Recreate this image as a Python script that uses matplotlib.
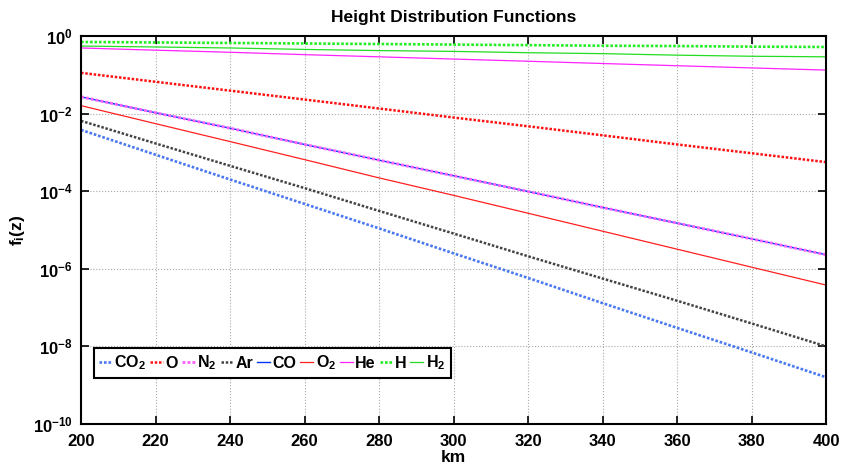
import numpy as np
import matplotlib
matplotlib.use('Agg')
import matplotlib.pyplot as plt
from matplotlib.ticker import NullLocator

plt.rcParams['font.family'] = 'Liberation Sans'
plt.rcParams['font.weight'] = 'bold'
plt.rcParams['mathtext.fontset'] = 'custom'
plt.rcParams['mathtext.rm'] = 'Liberation Sans:bold'
plt.rcParams['mathtext.it'] = 'Liberation Sans:bold'
plt.rcParams['mathtext.bf'] = 'Liberation Sans:bold'
plt.rcParams['mathtext.default'] = 'bf'

# altitude (km)
z = [200, 220, 240, 260, 280, 300, 320, 340, 360, 380, 400]

# height distribution functions
f_co2 = [3.8e-3, 8.7e-4, 2.0e-4, 4.7e-5, 1.1e-5, 2.5e-6, 5.8e-7, 1.3e-7, 3.0e-8, 7.0e-9, 1.6e-9]
f_o = [0.112, 6.6e-2, 3.9e-2, 2.3e-2, 1.35e-2, 7.9e-3, 4.7e-3, 2.75e-3, 1.6e-3, 9.5e-4, 5.6e-4]
f_n2 = [2.7e-2, 1.05e-2, 4.2e-3, 1.6e-3, 6.3e-4, 2.5e-4, 9.8e-5, 3.8e-5, 1.5e-5, 5.9e-6, 2.3e-6]
f_ar = [6.5e-3, 1.7e-3, 4.5e-4, 1.2e-4, 3.1e-5, 8.1e-6, 2.1e-6, 5.6e-7, 1.5e-7, 3.9e-8, 1.0e-8]
f_co = [2.7e-2, 1.05e-2, 4.2e-3, 1.6e-3, 6.3e-4, 2.5e-4, 9.8e-5, 3.8e-5, 1.5e-5, 5.9e-6, 2.3e-6]
f_o2 = [1.6e-2, 5.5e-3, 1.9e-3, 6.5e-4, 2.2e-4, 7.8e-5, 2.7e-5, 9.3e-6, 3.2e-6, 1.1e-6, 3.8e-7]
f_he = [0.49, 0.43, 0.38, 0.33, 0.29, 0.254, 0.223, 0.195, 0.171, 0.150, 0.132]
f_h = [0.70, 0.68, 0.66, 0.64, 0.62, 0.60, 0.58, 0.56, 0.55, 0.53, 0.52]
f_h2 = [0.55, 0.52, 0.49, 0.45, 0.42, 0.40, 0.37, 0.35, 0.32, 0.30, 0.29]

fig = plt.figure(figsize=(8.44, 4.67), dpi=100)
ax = fig.add_axes([0.096, 0.092, 0.883, 0.831])

dots = (0, (1, 0.7))
ax.plot(z, f_co2, color='#4a78f0', ls=dots, lw=1.9, label=r'CO$_2$')
ax.plot(z, f_o, color='#ff1010', ls=dots, lw=1.8, label='O')
ax.plot(z, f_co, color='#0033ff', lw=1.0)
ax.plot(z, f_n2, color='#ff66ff', ls=dots, lw=2.1, label=r'N$_2$')
ax.plot(z, f_ar, color='#444444', ls=dots, lw=1.8, label='Ar')
ax.plot([], [], color='#0033ff', lw=1.0, label='CO')
ax.plot(z, f_o2, color='#ff2020', lw=0.9, label=r'O$_2$')
ax.plot(z, f_he, color='#ff22ff', lw=0.9, label='He')
ax.plot(z, f_h, color='#22ee22', ls=dots, lw=1.9, label='H')
ax.plot(z, f_h2, color='#22dd22', lw=0.9, label=r'H$_2$')

ax.set_yscale('log')
ax.set_xlim(200, 400)
ax.set_ylim(1e-10, 1)
ax.set_xticks(np.arange(200, 401, 20))
ax.set_yticks([1e-10, 1e-8, 1e-6, 1e-4, 1e-2, 1])
ax.yaxis.set_minor_locator(NullLocator())
ax.grid(True, color='#aaaaaa', ls=':', lw=0.8)
ax.tick_params(direction='in', top=True, right=True, length=6, width=1.2, labelsize=12)
ax.tick_params(axis='x', pad=7)
ax.tick_params(axis='y', pad=6)
for s in ax.spines.values():
    s.set_linewidth(1.5)

ax.set_title('Height Distribution Functions', fontsize=12.5, fontweight='bold', pad=10)
ax.set_xlabel('km', fontsize=12.5, fontweight='bold', labelpad=1)
ax.set_ylabel(r'f$_\mathrm{i}$(z)', fontsize=12.5, fontweight='bold', labelpad=4)

leg = ax.legend(loc='lower left', bbox_to_anchor=(0.017, 0.119), ncol=9, fontsize=11.5,
                handlelength=0.8, handletextpad=0.15, columnspacing=0.25, borderpad=0.35,
                borderaxespad=0, fancybox=False, edgecolor='black', framealpha=1)
leg.get_frame().set_linewidth(1.5)

fig.savefig('out.png', dpi=100)
